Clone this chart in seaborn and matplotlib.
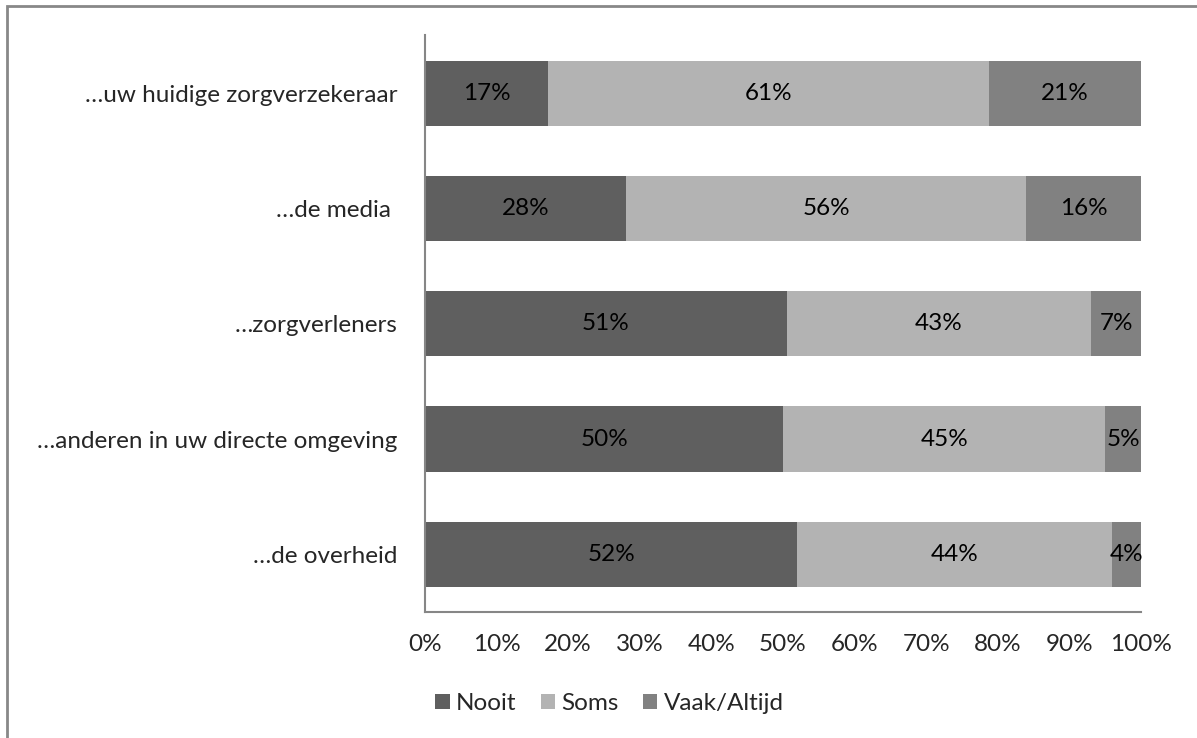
import matplotlib.pyplot as plt
import seaborn as sns
import pandas as pd
from matplotlib.patches import Rectangle, Patch

categories = [
    "…uw huidige zorgverzekeraar",
    "…de media ",
    "…zorgverleners",
    "…anderen in uw directe omgeving",
    "…de overheid",
]
nooit = [17, 28, 51, 50, 52]
soms = [61, 56, 43, 45, 44]
vaak = [21, 16, 7, 5, 4]
series = ["Nooit", "Soms", "Vaak/Altijd"]
colors = ["#5f5f5f", "#b3b3b3", "#818181"]

df = pd.DataFrame({"cat": categories, "Nooit": nooit, "Soms": soms, "Vaak/Altijd": vaak})
total = df[series].sum(axis=1)
# 100% stacked bar: normalise each row
for s in series:
    df[s + "_pct"] = df[s] / total * 100
df["c1"] = df["Nooit_pct"]
df["c2"] = df["c1"] + df["Soms_pct"]
df["c3"] = df["c2"] + df["Vaak/Altijd_pct"]

sns.set_style("white")
plt.rcParams["font.family"] = ["Lato", "DejaVu Sans"]
fs = 17.5

fig = plt.figure(figsize=(11.97, 7.38), dpi=100)
ax = fig.add_axes([0.3551, 0.1707, 0.5981, 0.7812])

bw = 0.565
sns.barplot(data=df, y="cat", x="c3", color=colors[2], width=bw, ax=ax, orient="h",
            saturation=1, linewidth=0)
sns.barplot(data=df, y="cat", x="c2", color=colors[1], width=bw, ax=ax, orient="h",
            saturation=1, linewidth=0)
sns.barplot(data=df, y="cat", x="c1", color=colors[0], width=bw, ax=ax, orient="h",
            saturation=1, linewidth=0)

# segment labels
for i, row in df.iterrows():
    left = 0
    for s in series:
        w = row[s + "_pct"]
        ax.text(left + w / 2, i, f"{row[s]}%", ha="center", va="center",
                fontsize=fs, color="black")
        left += w

ax.set_xlim(0, 100)
ax.set_ylim(len(categories) - 0.5, -0.5)
ax.set_xticks(range(0, 101, 10))
ax.set_xticklabels([f"{v}%" for v in range(0, 101, 10)], fontsize=fs)
ax.tick_params(axis="y", labelsize=fs, length=0, pad=20)
ax.tick_params(axis="x", length=0, pad=16)
ax.set_xlabel("")
ax.set_ylabel("")
for side in ["top", "right"]:
    ax.spines[side].set_visible(False)
for side in ["left", "bottom"]:
    ax.spines[side].set_color("#868686")
    ax.spines[side].set_linewidth(1.5)

handles = [Patch(facecolor=c, edgecolor="none") for c in colors]
fig.legend(handles, series, loc="center", bbox_to_anchor=(0.509, 0.047), ncol=3,
           frameon=False, fontsize=fs, handlelength=0.6, handleheight=0.6,
           handletextpad=0.25, columnspacing=1.0)

# outer frame (only left and top visible in the crop)
fig.patches.append(Rectangle((0.0062, -0.05), 1.1, 1.0419, transform=fig.transFigure,
                             fill=False, edgecolor="#888888", linewidth=2))

fig.savefig("out.png", dpi=100)
